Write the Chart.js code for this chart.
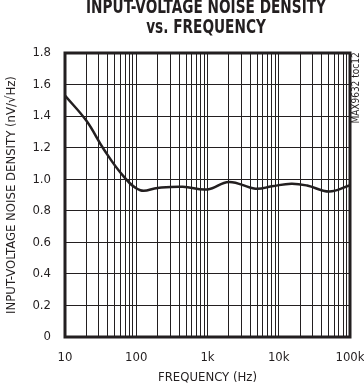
<!DOCTYPE html>
<html>
<head>
<meta charset="utf-8">
<script src="https://cdn.jsdelivr.net/npm/chart.js@4"></script>
<style>
  html, body { margin: 0; padding: 0; background: #fff; }
  #wrap { width: 364px; height: 389px; position: relative; }
</style>
</head>
<body>
<div id="wrap"><canvas id="noiseChart"></canvas></div>
<script>
// data
const freqHz = [10, 20, 35, 66, 114, 200, 450, 1000, 2000, 4700, 8000, 15000, 25000, 51000, 100000];
const noiseDensity = [1.53, 1.37, 1.19, 1.02, 0.93, 0.945, 0.952, 0.935, 0.983, 0.94, 0.955, 0.972, 0.96, 0.922, 0.962];
const decadeLabels = { 10: '10', 100: '100', 1000: '1k', 10000: '10k', 100000: '100k' };
const yTicks = [0, 0.2, 0.4, 0.6, 0.8, 1.0, 1.2, 1.4, 1.6, 1.8];

const FONT = '"Liberation Sans Narrow", "DejaVu Sans Condensed", "Liberation Sans", sans-serif';
const INK = '#231f20';

const frameAndText = {
  id: 'frameAndText',
  afterDraw(chart) {
    const { ctx, chartArea: a } = chart;
    ctx.save();
    ctx.strokeStyle = INK;
    ctx.lineWidth = 3;
    ctx.strokeRect(a.left, a.top, a.right - a.left, a.bottom - a.top);

    ctx.fillStyle = INK;
    ctx.textAlign = 'center';
    ctx.textBaseline = 'middle';
    ctx.font = 'bold 19px ' + FONT;
    // title is a heavy condensed face: squeeze it horizontally
    ctx.save();
    ctx.translate(206, 0);
    ctx.scale(0.8, 1);
    ctx.fillText('INPUT-VOLTAGE NOISE DENSITY', 0, 8);
    ctx.fillText('vs. FREQUENCY', 0, 28);
    ctx.restore();

    ctx.font = '10px ' + FONT;
    ctx.translate(356, 88);
    ctx.rotate(-Math.PI / 2);
    ctx.fillText('MAX9632 toc12', 0, 0);
    ctx.restore();
  }
};

new Chart(document.getElementById('noiseChart'), {
  type: 'line',
  data: {
    datasets: [{
      data: freqHz.map((f, i) => ({ x: f, y: noiseDensity[i] })),
      borderColor: INK,
      borderWidth: 2.5,
      pointRadius: 0,
      tension: 0.4,
      fill: false,
    }],
  },
  options: {
    responsive: true,
    maintainAspectRatio: false,
    animation: false,
    layout: { padding: { top: 53, right: 14, left: 0, bottom: 0 } },
    plugins: { legend: { display: false }, tooltip: { enabled: false } },
    scales: {
      x: {
        type: 'logarithmic',
        min: 10,
        max: 100000,
        afterFit: (s) => { s.height = 52; s.paddingLeft = 0; s.paddingRight = 0; },
        afterBuildTicks: (s) => {
          const t = [];
          for (let d = 10; d < 100000; d *= 10) {
            for (let m = 1; m < 10; m++) t.push({ value: d * m });
          }
          t.push({ value: 100000 });
          s.ticks = t;
        },
        grid: { color: INK, lineWidth: 1, drawTicks: false },
        border: { display: false },
        ticks: {
          autoSkip: false,
          maxRotation: 0,
          padding: 13,
          color: INK,
          font: { family: FONT, size: 13 },
          callback: (v) => decadeLabels[v] || '',
        },
        title: {
          display: true,
          text: 'FREQUENCY (Hz)',
          color: INK,
          font: { family: FONT, size: 13 },
          padding: { top: 4 },
        },
      },
      y: {
        min: 0,
        max: 1.8,
        afterFit: (s) => { s.width = 65; s.paddingTop = 0; s.paddingBottom = 0; },
        afterBuildTicks: (s) => { s.ticks = yTicks.map((v) => ({ value: v })); },
        grid: { color: INK, lineWidth: 1, drawTicks: false },
        border: { display: false },
        ticks: {
          padding: 14,
          color: INK,
          font: { family: FONT, size: 13 },
          callback: (v) => (v === 0 ? '0' : v.toFixed(1)),
        },
        title: {
          display: true,
          text: 'INPUT-VOLTAGE NOISE DENSITY (nV/√Hz)',
          color: INK,
          font: { family: FONT, size: 13 },
          padding: { bottom: 0 },
        },
      },
    },
  },
  plugins: [frameAndText],
});
</script>
</body>
</html>
